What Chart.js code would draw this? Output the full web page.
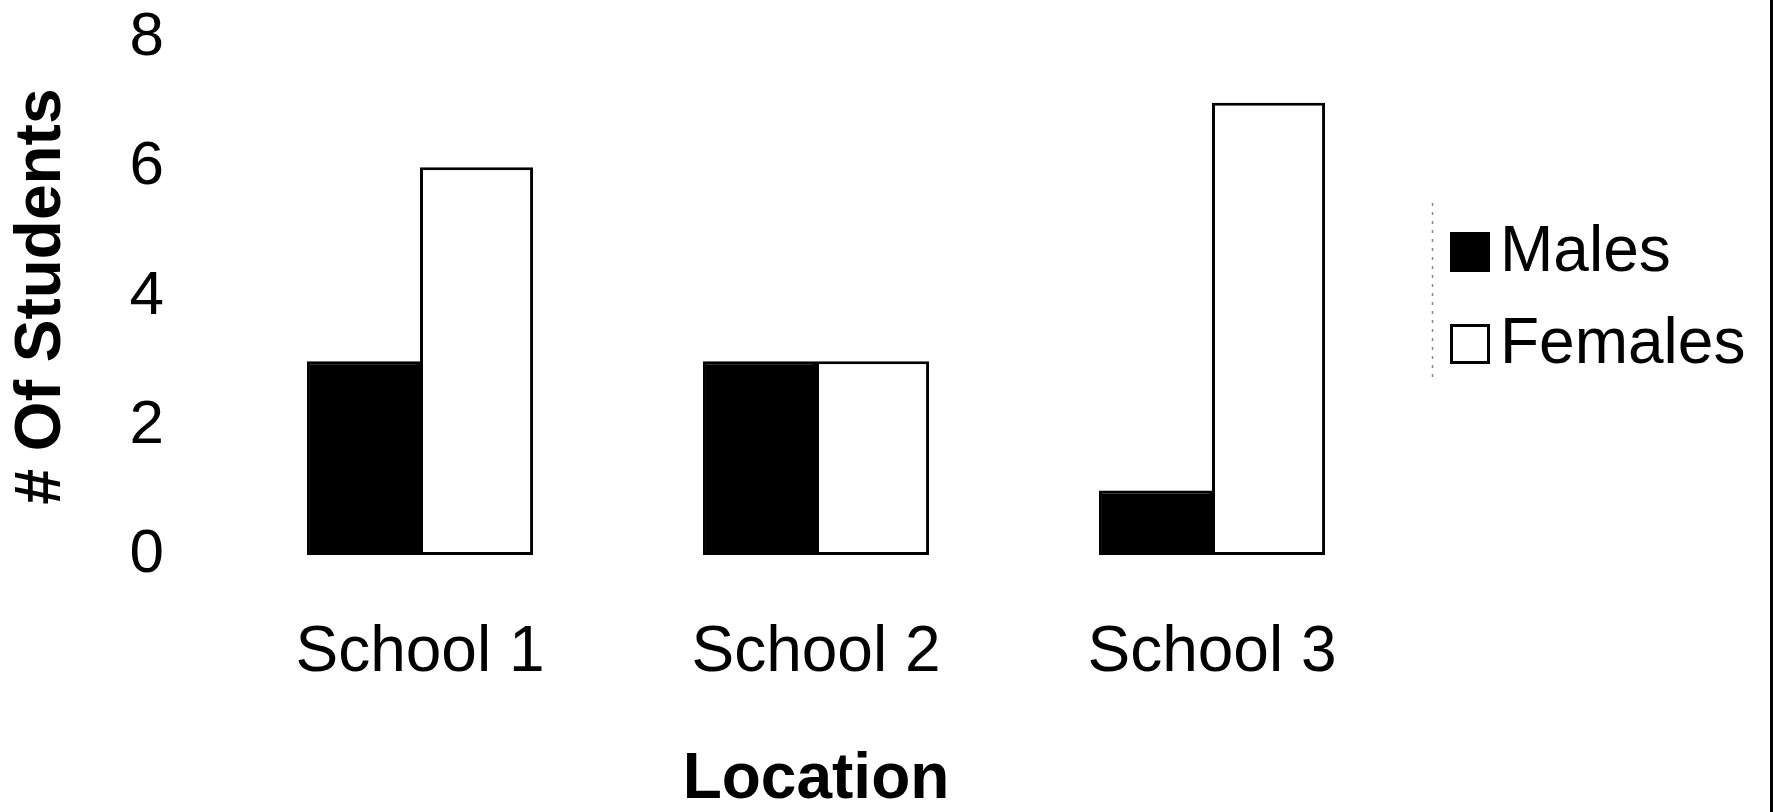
<!DOCTYPE html>
<html>
<head>
<meta charset="utf-8">
<script src="https://cdn.jsdelivr.net/npm/chart.js@4/dist/chart.umd.min.js"></script>
<style>
  html, body { margin: 0; padding: 0; background: #fff; }
  #wrap { width: 1773px; height: 812px; }
</style>
</head>
<body>
<div id="wrap"><canvas id="c" width="1773" height="812"></canvas></div>
<script>
// Students per school, split by gender
const categories = ['School 1', 'School 2', 'School 3'];
const males = [3, 3, 1];
const females = [6, 3, 7];
const seriesNames = ['Males', 'Females'];
const yTicks = [0, 2, 4, 6, 8];

const FONT = '"Liberation Sans", Arial, sans-serif';

// Legend drawn at the right: square swatch + label per dataset
const sideLegend = {
  id: 'sideLegend',
  afterDraw(chart) {
    const ctx = chart.ctx;
    ctx.save();
    // faint dotted frame edge to the left of the legend
    ctx.strokeStyle = '#888';
    ctx.lineWidth = 1.5;
    ctx.setLineDash([3, 6]);
    ctx.beginPath();
    ctx.moveTo(1432.5, 203);
    ctx.lineTo(1432.5, 383);
    ctx.stroke();
    ctx.setLineDash([]);

    chart.data.datasets.forEach((ds, i) => {
      const x = 1450, y = 232 + i * 92, s = 40;
      ctx.fillStyle = ds.borderColor;
      ctx.fillRect(x, y, s, s);
      ctx.fillStyle = ds.backgroundColor;
      ctx.fillRect(x + 3, y + 3, s - 6, s - 6);
      ctx.fillStyle = '#000';
      ctx.font = '64px ' + FONT;
      ctx.textAlign = 'left';
      ctx.textBaseline = 'middle';
      ctx.fillText(ds.label, 1500, y + s / 2 + 1);
    });

    // border rule on the right edge
    ctx.fillStyle = '#000';
    ctx.fillRect(1770, 0, 3, 812);
    ctx.restore();
  }
};

new Chart(document.getElementById('c'), {
  type: 'bar',
  data: {
    labels: categories,
    datasets: [
      {
        label: seriesNames[0],
        data: males,
        backgroundColor: '#000000',
        borderColor: '#000000',
        borderWidth: 3,
        borderSkipped: false
      },
      {
        label: seriesNames[1],
        data: females,
        backgroundColor: '#ffffff',
        borderColor: '#000000',
        borderWidth: 3,
        borderSkipped: false
      }
    ]
  },
  options: {
    responsive: false,
    animation: false,
    layout: { padding: { left: 0, right: 363, top: 0, bottom: 0 } },
    datasets: { bar: { categoryPercentage: 0.571, barPercentage: 1.0 } },
    plugins: {
      legend: { display: false },
      tooltip: { enabled: false }
    },
    scales: {
      x: {
        grid: { display: false, drawTicks: false },
        border: { display: false },
        ticks: {
          color: '#000',
          padding: 60,
          font: { family: FONT, size: 64, lineHeight: 1.2 }
        },
        title: {
          display: true,
          text: 'Location',
          color: '#000',
          padding: 0,
          font: { family: FONT, size: 64, weight: 'bold', lineHeight: 1.0 }
        },
        afterFit(scale) {
          scale.height = 257;
          scale.paddingLeft = 0;
          scale.paddingRight = 0;
        }
      },
      y: {
        min: 0,
        max: 8,
        afterBuildTicks(scale) { scale.ticks = yTicks.map(v => ({ value: v })); },
        grid: { display: false, drawTicks: false },
        border: { display: false },
        ticks: {
          color: '#000',
          padding: 58,
          font: { family: FONT, size: 62, lineHeight: 1.2 }
        },
        title: {
          display: true,
          text: '# Of Students',
          color: '#000',
          padding: { top: 4, bottom: 0 },
          font: { family: FONT, size: 64, weight: 'bold', lineHeight: 1.2 }
        },
        afterFit(scale) {
          scale.width = 222;
          scale.paddingTop = 38;
          scale.paddingBottom = 0;
        }
      }
    }
  },
  plugins: [sideLegend]
});
</script>
</body>
</html>
